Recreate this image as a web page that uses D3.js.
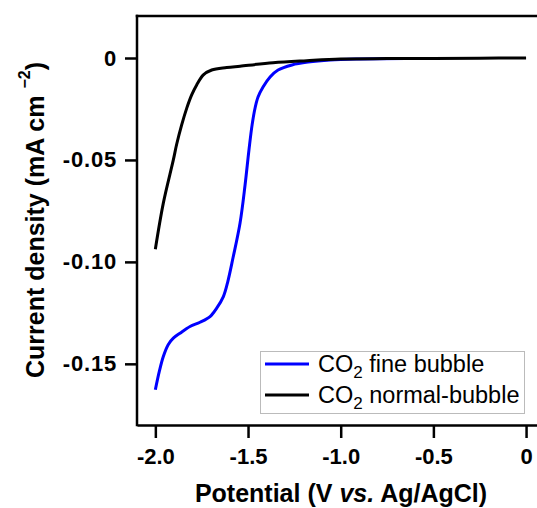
<!DOCTYPE html>
<meta charset="utf-8">
<style>
body { margin: 0; background: #fff; }
text { font-family: "Liberation Sans", Arial, sans-serif; }
.tick text { font-weight: bold; font-size: 22px; fill: #000; }
.axis path, .axis line { stroke: #000; stroke-width: 2.5px; }
.title { font-weight: bold; font-size: 25px; }
.legend text { font-size: 23.5px; }
</style>
<svg width="537" height="508"></svg>
<script src="https://d3js.org/d3.v7.min.js"></script>
<script>

// CO2 fine bubble (blue)
var fineV = [-2.0, -1.978, -1.957, -1.93, -1.903, -1.867, -1.813, -1.759, -1.705, -1.669, -1.633,
             -1.61, -1.581, -1.543, -1.516, -1.495, -1.478, -1.462, -1.446, -1.419, -1.381,
             -1.338, -1.263, -1.176, -1.057, -0.896, -0.65];
var fineJ = [-0.1627, -0.1535, -0.1464, -0.1405, -0.1374, -0.1350, -0.1317, -0.1296, -0.1268, -0.1227, -0.1170,
             -0.1100, -0.0980, -0.0809, -0.0623, -0.0451, -0.0328, -0.0245, -0.0191, -0.0142, -0.0093,
             -0.0059, -0.0034, -0.0020, -0.0010, -0.0005, -0.0002];

// CO2 normal-bubble (black)
var normalV = [-2.0, -1.957, -1.903, -1.885, -1.858, -1.831, -1.804, -1.777, -1.741, -1.696, -1.615,
               -1.543, -1.365, -1.183, -1.0, -0.75, -0.5, -0.25, 0.0];
var normalJ = [-0.0938, -0.0712, -0.0500, -0.0423, -0.0328, -0.0247, -0.0181, -0.0132, -0.0083, -0.0059, -0.0047,
               -0.0040, -0.0023, -0.0013, -0.0005, -0.0003, -0.0002, -0.0001, 0.0];

var xTicks = [-2.0, -1.5, -1.0, -0.5, 0];
var xTickLabels = ["-2.0", "-1.5", "-1.0", "-0.5", "0"];
var yTicks = [0, -0.05, -0.10, -0.15];
var yTickLabels = ["0", "-0.05", "-0.10", "-0.15"];

var svg = d3.select("svg"),
    plotLeft = 137, plotTop = 16, plotRight = 537, plotBottom = 425;

var x = d3.scaleLinear().domain([-2.099, 0.059]).range([plotLeft, plotRight]);
var y = d3.scaleLinear().domain([-0.18, 0.0206]).range([plotBottom, plotTop]);

// top frame line
svg.append("line")
    .attr("x1", plotLeft - 1.25).attr("x2", plotRight)
    .attr("y1", plotTop).attr("y2", plotTop)
    .attr("stroke", "#000").attr("stroke-width", 2.5);

svg.append("g")
    .attr("class", "axis")
    .attr("transform", "translate(0," + plotBottom + ")")
    .call(d3.axisBottom(x).tickValues(xTicks)
      .tickFormat(function(d, i) { return xTickLabels[i]; })
      .tickSize(13).tickSizeOuter(0).tickPadding(10));

var yAxis = svg.append("g")
    .attr("class", "axis")
    .attr("transform", "translate(" + plotLeft + ",0)")
    .call(d3.axisLeft(y).tickValues(yTicks)
      .tickFormat(function(d, i) { return yTickLabels[i]; })
      .tickSize(12).tickSizeOuter(0).tickPadding(8));
yAxis.select(".domain").attr("d", "M0," + (plotTop - 1.25) + "V" + (plotBottom + 1.25));
yAxis.selectAll(".tick text").attr("letter-spacing", "0.8px");

var line = d3.line()
    .x(function(d) { return x(d[0]); })
    .y(function(d) { return y(d[1]); })
    .curve(d3.curveCatmullRom.alpha(0.5));

svg.append("path")
    .datum(d3.zip(fineV, fineJ))
    .attr("fill", "none").attr("stroke", "#0000ff").attr("stroke-width", 3)
    .attr("d", line);

svg.append("path")
    .datum(d3.zip(normalV, normalJ))
    .attr("fill", "none").attr("stroke", "#000").attr("stroke-width", 3)
    .attr("d", line);

// axis titles
var xt = svg.append("text").attr("class", "title")
    .attr("x", 341).attr("y", 502).attr("text-anchor", "middle");
xt.append("tspan").text("Potential (V ");
xt.append("tspan").attr("font-style", "italic").text("vs.");
xt.append("tspan").text(" Ag/AgCl)");

var yt = svg.append("text").attr("class", "title")
    .attr("transform", "translate(44,220) rotate(-90)")
    .attr("text-anchor", "middle");
yt.append("tspan").text("Current density (mA cm ");
yt.append("tspan").attr("font-size", "16px").attr("dy", "-0.9em").text("\u22122");
yt.append("tspan").attr("dy", "0.58em").text(")");

// legend
var legend = svg.append("g").attr("class", "legend");
legend.append("rect")
    .attr("x", 260.5).attr("y", 351.5).attr("width", 264).attr("height", 62)
    .attr("fill", "#fff").attr("stroke", "#bbb").attr("stroke-width", 1);

var legendItems = [
  { color: "#0000ff", label: " fine bubble" },
  { color: "#000", label: " normal-bubble" }
];
legendItems.forEach(function(d, i) {
  var cy = 364 + i * 31;
  legend.append("line")
      .attr("x1", 265).attr("x2", 309).attr("y1", cy).attr("y2", cy)
      .attr("stroke", d.color).attr("stroke-width", 3);
  var t = legend.append("text").attr("x", 318).attr("y", cy + 8);
  t.append("tspan").text("CO");
  t.append("tspan").attr("font-size", "17px").attr("dy", "6").text("2");
  t.append("tspan").attr("dy", "-6").text(d.label);
});

</script>
